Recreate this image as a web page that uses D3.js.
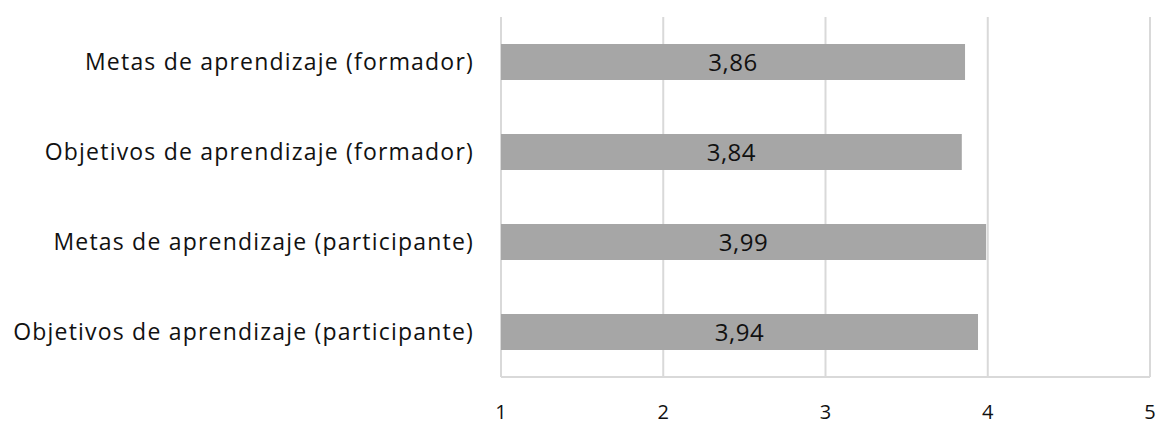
<!DOCTYPE html>
<html><head><meta charset="utf-8">
<script src="https://cdn.jsdelivr.net/npm/d3@7"></script>
<style>body{margin:0;background:#fff}svg{display:block}</style>
</head><body>
<svg id="c" width="1156" height="426"></svg>
<script>
const categories = [
  "Metas de aprendizaje (formador)",
  "Objetivos de aprendizaje (formador)",
  "Metas de aprendizaje (participante)",
  "Objetivos de aprendizaje (participante)"
];
const values = [3.86, 3.84, 3.99, 3.94];
const ticks = [1, 2, 3, 4, 5];

const svg = d3.select("#c");
const font = "Open Sans, sans-serif";
const x = d3.scaleLinear().domain([1, 5]).range([501, 1150]);
const y = d3.scaleBand().domain(categories).range([17, 377]).paddingInner(0.6).paddingOuter(0.3);

// gridlines
svg.append("g").selectAll("line").data(ticks).join("line")
  .attr("x1", d => x(d)).attr("x2", d => x(d))
  .attr("y1", 17).attr("y2", 377)
  .attr("stroke", "#d9d9d9").attr("stroke-width", 2);
svg.append("line").attr("x1", x(1)).attr("x2", x(5)).attr("y1", 377).attr("y2", 377)
  .attr("stroke", "#d9d9d9").attr("stroke-width", 2);

// bars
svg.append("g").selectAll("rect").data(values).join("rect")
  .attr("x", x(1)).attr("y", (d, i) => y(categories[i]))
  .attr("width", d => x(d) - x(1)).attr("height", y.bandwidth())
  .attr("fill", "#a6a6a6");

// value labels
svg.append("g").selectAll("text").data(values).join("text")
  .attr("x", d => (x(1) + x(d)) / 2)
  .attr("y", (d, i) => y(categories[i]) + y.bandwidth() / 2)
  .attr("dy", "0.36em").attr("text-anchor", "middle")
  .attr("font-family", font).attr("font-size", 24).attr("fill", "#111")
  .attr("letter-spacing", 0.5)
  .text(d => d.toFixed(2).replace(".", ","));

// category labels
svg.append("g").selectAll("text").data(categories).join("text")
  .attr("x", 474).attr("y", d => y(d) + y.bandwidth() / 2)
  .attr("dy", "0.36em").attr("text-anchor", "end")
  .attr("font-family", font).attr("font-size", 23).attr("fill", "#111")
  .attr("letter-spacing", 1.2)
  .text(d => d);

// x tick labels
svg.append("g").selectAll("text").data(ticks).join("text")
  .attr("x", d => x(d)).attr("y", 419)
  .attr("text-anchor", "middle")
  .attr("font-family", font).attr("font-size", 20).attr("fill", "#111")
  .text(d => d);
</script>
</body></html>
